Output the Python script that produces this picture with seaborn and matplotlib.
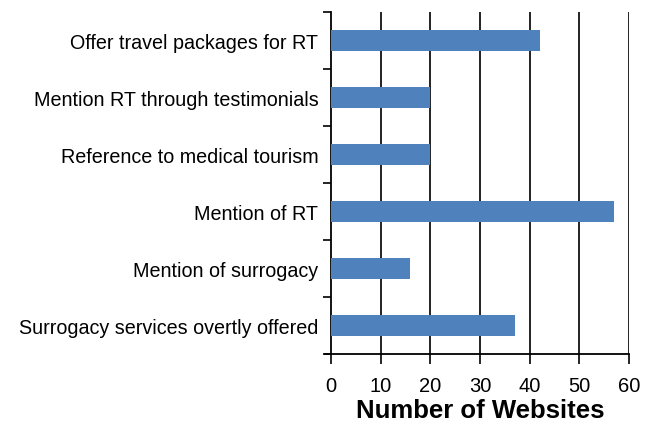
import matplotlib
matplotlib.use("Agg")
import matplotlib.pyplot as plt
import seaborn as sns
import pandas as pd
import numpy as np

categories = [
    "Offer travel packages for RT",
    "Mention RT through testimonials",
    "Reference to medical tourism",
    "Mention of RT",
    "Mention of surrogacy",
    "Surrogacy services overtly offered",
]
values = [42, 20, 20, 57, 16, 37]
xticks = [0, 10, 20, 30, 40, 50, 60]

sns.set_theme(style="white")
plt.rcParams["font.family"] = ["Liberation Sans", "DejaVu Sans"]
plt.rcParams["text.color"] = "black"
plt.rcParams["axes.labelcolor"] = "black"
plt.rcParams["xtick.color"] = "black"
plt.rcParams["ytick.color"] = "black"

df = pd.DataFrame({"cat": categories, "val": values})

fig = plt.figure(figsize=(6.52, 4.27), dpi=100)
ax = fig.add_axes([331/652, 1-355/427, (629-331)/652, (355-13)/427])

sns.barplot(data=df, y="cat", x="val", orient="h", color="#4F81BD",
            saturation=1, width=0.38, ax=ax, zorder=3, linewidth=0)

ax.set_xlim(0, 60)
ax.set_ylim(len(categories)-0.5, -0.5)
ax.set_xticks(xticks)
ax.set_xticklabels([str(t) for t in xticks], fontsize=14.5)
ax.set_yticks(range(len(categories)))
ax.set_yticklabels(categories, fontsize=14.2)
ax.set_yticks(np.arange(-0.5, len(categories)), minor=True)
ax.tick_params(axis="y", which="major", length=0, pad=9)
ax.tick_params(axis="y", which="minor", length=6, width=1.2, color="black", left=True, direction="out")
ax.tick_params(axis="x", which="major", length=7, width=1.2, color="black", bottom=True, direction="out", pad=9)

ax.grid(False)
for x in xticks[1:]:
    ax.axvline(x, color="#222222", lw=1.4, zorder=1)

for s in ["top", "right"]:
    ax.spines[s].set_visible(False)
ax.spines["left"].set_color("black")
ax.spines["left"].set_linewidth(1.3)
ax.spines["bottom"].set_color("black")
ax.spines["bottom"].set_linewidth(1.3)
ax.spines["bottom"].set_bounds(-1.2, 60)
ax.spines["bottom"].set_clip_on(False)

ax.set_ylabel("")
ax.set_xlabel("Number of Websites", fontsize=18.5, fontweight="bold", labelpad=2, color="black")

fig.savefig("out.png", dpi=100)
